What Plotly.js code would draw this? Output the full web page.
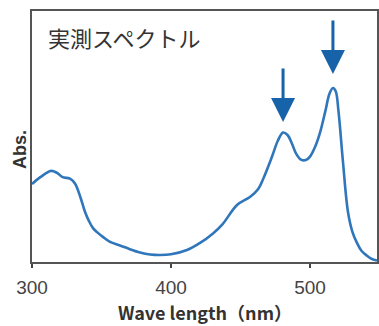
<!DOCTYPE html>
<html><head><meta charset="utf-8">
<script src="https://cdn.plot.ly/plotly-3.0.1.min.js"></script>
<style>html,body{margin:0;padding:0;background:#fff;}#c{width:379px;height:326px;}</style>
</head><body><div id="c"></div>
<script>
var wavelength = [300, 306, 313.7, 318, 322, 327.3, 331, 335, 338.1, 341, 343.9, 347, 351, 356.1, 363.3, 370, 377.7, 385, 392.1, 400, 411.5, 420.9, 430.2, 437, 447.5, 456.8, 462.6, 467, 472.7, 477, 480.6, 484, 487.1, 490, 493.5, 497, 500, 504, 507.2, 511, 514, 516.5, 518.5, 520.5, 523.7, 527.3, 530.5, 533.8, 537, 541, 544.5, 548.2];
var absorbance = [0.311, 0.338, 0.363, 0.355, 0.338, 0.332, 0.312, 0.255, 0.200, 0.163, 0.135, 0.118, 0.100, 0.080, 0.066, 0.052, 0.038, 0.030, 0.028, 0.031, 0.048, 0.076, 0.114, 0.150, 0.227, 0.259, 0.290, 0.340, 0.420, 0.485, 0.516, 0.505, 0.470, 0.432, 0.408, 0.406, 0.420, 0.463, 0.515, 0.600, 0.670, 0.693, 0.680, 0.600, 0.400, 0.200, 0.120, 0.076, 0.045, 0.025, 0.012, 0.006];
var tickVals = [300, 400, 500];
var tickText = ['300', '400', '500'];
var peakX = [480.6, 516.5];
var peakTipY = [0.558, 0.749];
var titleText = '実測スペクトル';
var xTitle = 'Wave length（nm）';
var yTitle = 'Abs.';

var arrowColor = '#1663a9';
var annotations = [
  {xref:'paper', yref:'paper', x:0.04, y:0.895, xanchor:'left', yanchor:'middle', text:titleText, showarrow:false,
   font:{family:'Noto Sans CJK JP', size:22, color:'#333'}},
  {xref:'paper', yref:'paper', x:-0.035, y:0.45, xanchor:'center', yanchor:'middle', text:'<b>'+yTitle+'</b>', textangle:-90, showarrow:false,
   font:{family:'Liberation Sans, Arial', size:18, color:'#333'}},
  {xref:'paper', yref:'paper', x:0.5, y:-0.2, xanchor:'center', yanchor:'middle', text:'<b>'+xTitle+'</b>', showarrow:false,
   font:{family:'Noto Sans CJK JP', size:18, color:'#333'}}
];
for (var i = 0; i < peakX.length; i++) {
  annotations.push({x:peakX[i], y:peakTipY[i], xref:'x', yref:'y', ax:0, ay:-55, axref:'pixel', ayref:'pixel',
    showarrow:true, arrowhead:2, arrowsize:1.6, arrowwidth:3, arrowcolor:arrowColor, text:''});
}

Plotly.newPlot('c', [{
  x: wavelength, y: absorbance, type:'scatter', mode:'lines',
  line:{color:'#2f76bb', width:2.6, shape:'spline', smoothing:1}, hoverinfo:'none'
}], {
  width:379, height:326,
  margin:{l:32, r:2, t:11, b:64},
  paper_bgcolor:'#fff', plot_bgcolor:'#fff',
  showlegend:false,
  xaxis:{range:[300,548.2], tickvals:tickVals, ticktext:tickText, ticks:'outside', ticklen:4, tickwidth:2, tickcolor:'#444',
    ticklabelstandoff:3,
    showline:true, mirror:true, linecolor:'#555', linewidth:2, showgrid:false, zeroline:false,
    tickfont:{family:'Liberation Sans, Arial', size:19, color:'#444'}},
  yaxis:{range:[0,1], showticklabels:false, ticks:'', showline:true, mirror:true, linecolor:'#555', linewidth:2,
    showgrid:false, zeroline:false},
  annotations: annotations
}, {staticPlot:true});
</script></body></html>
